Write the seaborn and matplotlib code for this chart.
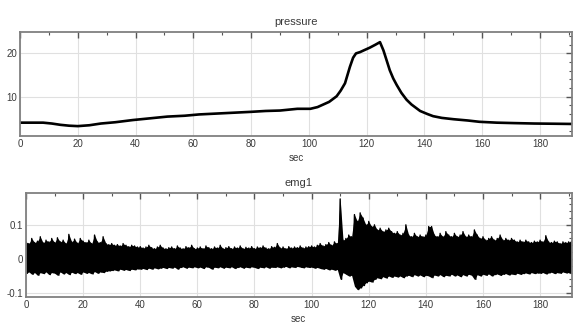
import numpy as np
import pandas as pd
import matplotlib
matplotlib.use("Agg")
import matplotlib.pyplot as plt
from matplotlib.ticker import MultipleLocator
import seaborn as sns

# ---- data ----
pressure_t = [0, 5, 8, 11, 14, 17, 20, 24, 28, 33, 39, 45, 51, 57, 62, 68, 74, 80, 85, 90,
              93, 96, 98, 100.5, 103, 105, 107, 109.6, 111, 112.5, 114.2, 115.3, 116.3, 117.7,
              119, 121, 123, 124.6, 125.8, 127, 128, 129.2, 130.4, 132, 133.8, 135.5, 138.5,
              141, 143, 146, 150, 155, 159, 165, 171, 178, 185, 191]
pressure_val = [4.0, 4.0, 4.0, 3.8, 3.5, 3.3, 3.2, 3.4, 3.8, 4.1, 4.6, 5.0, 5.4, 5.6, 5.9, 6.1,
                6.3, 6.5, 6.7, 6.8, 7.0, 7.2, 7.2, 7.2, 7.6, 8.2, 8.8, 10.1, 11.4, 13.1, 16.9,
                19.0, 20.0, 20.3, 20.7, 21.3, 22.0, 22.6, 20.7, 18.2, 16.1, 14.2, 12.7, 10.9,
                9.3, 8.2, 6.7, 6.0, 5.5, 5.1, 4.8, 4.5, 4.2, 4.0, 3.9, 3.8, 3.75, 3.7]

# emg1: per-second upper / lower excursions (t = 0 .. 191 s)
emg_hi = [0.05, 0.045, 0.06, 0.048, 0.052, 0.065, 0.047, 0.055, 0.05, 0.06,
          0.048, 0.062, 0.05, 0.055, 0.045, 0.072, 0.05, 0.058, 0.046, 0.06,
          0.052, 0.048, 0.055, 0.045, 0.07, 0.05, 0.048, 0.065, 0.045, 0.042,
          0.045, 0.04, 0.042, 0.038, 0.045, 0.04, 0.036, 0.04, 0.038, 0.035,
          0.036, 0.032, 0.035, 0.04, 0.033, 0.03, 0.035, 0.04, 0.032, 0.03,
          0.033, 0.035, 0.03, 0.038, 0.032, 0.03, 0.036, 0.033, 0.04, 0.03,
          0.032, 0.035, 0.03, 0.038, 0.033, 0.03, 0.035, 0.032, 0.04, 0.03,
          0.033, 0.036, 0.03, 0.035, 0.032, 0.038, 0.03, 0.034, 0.032, 0.036,
          0.03, 0.035, 0.033, 0.038, 0.032, 0.03, 0.036, 0.034, 0.045, 0.032,
          0.035, 0.03, 0.036, 0.032, 0.035, 0.033, 0.038, 0.032, 0.035, 0.036,
          0.038, 0.035, 0.04, 0.045, 0.038, 0.042, 0.048, 0.04, 0.05, 0.045,
          0.176, 0.055, 0.06, 0.07, 0.065, 0.13, 0.11, 0.135, 0.12, 0.1,
          0.11, 0.095, 0.1, 0.085, 0.09, 0.08, 0.085, 0.09, 0.08, 0.075,
          0.08, 0.07, 0.075, 0.1, 0.07, 0.065, 0.075, 0.065, 0.07, 0.065,
          0.07, 0.095, 0.095, 0.07, 0.065, 0.075, 0.065, 0.08, 0.07, 0.065,
          0.075, 0.065, 0.07, 0.08, 0.065, 0.07, 0.065, 0.085, 0.07, 0.06,
          0.065, 0.055, 0.06, 0.065, 0.055, 0.06, 0.07, 0.055, 0.06, 0.055,
          0.06, 0.055, 0.05, 0.055, 0.05, 0.055, 0.05, 0.048, 0.052, 0.05,
          0.055, 0.05, 0.068, 0.05, 0.048, 0.052, 0.05, 0.045, 0.05, 0.048,
          0.05, 0.052]
emg_lo = [-0.042, -0.038, -0.045, -0.04, -0.048, -0.04, -0.043, -0.038, -0.046, -0.04,
          -0.042, -0.048, -0.038, -0.044, -0.04, -0.046, -0.039, -0.043, -0.04, -0.045,
          -0.038, -0.042, -0.04, -0.044, -0.037, -0.042, -0.038, -0.04, -0.036, -0.035,
          -0.034, -0.032, -0.035, -0.03, -0.033, -0.031, -0.034, -0.03, -0.032, -0.029,
          -0.03, -0.028, -0.031, -0.027, -0.03, -0.026, -0.029, -0.027, -0.025, -0.028,
          -0.025, -0.027, -0.024, -0.03, -0.025, -0.023, -0.027, -0.024, -0.026, -0.023,
          -0.026, -0.024, -0.028, -0.023, -0.025, -0.03, -0.024, -0.026, -0.023, -0.027,
          -0.024, -0.026, -0.023, -0.028, -0.025, -0.023, -0.027, -0.024, -0.026, -0.023,
          -0.025, -0.028, -0.024, -0.026, -0.023, -0.027, -0.024, -0.025, -0.023, -0.026,
          -0.024, -0.022, -0.026, -0.023, -0.025, -0.022, -0.024, -0.026, -0.023, -0.025,
          -0.024, -0.027, -0.025, -0.028, -0.03, -0.028, -0.032, -0.03, -0.033, -0.031,
          -0.06, -0.04, -0.045, -0.05, -0.048, -0.08, -0.09, -0.085, -0.078, -0.07,
          -0.065, -0.068, -0.06, -0.055, -0.058, -0.052, -0.056, -0.05, -0.054, -0.05,
          -0.053, -0.05, -0.055, -0.05, -0.048, -0.052, -0.046, -0.05, -0.047, -0.052,
          -0.048, -0.05, -0.055, -0.047, -0.05, -0.046, -0.052, -0.048, -0.05, -0.045,
          -0.05, -0.047, -0.052, -0.046, -0.05, -0.045, -0.048, -0.06, -0.046, -0.05,
          -0.045, -0.048, -0.044, -0.05, -0.046, -0.044, -0.048, -0.045, -0.043, -0.047,
          -0.044, -0.046, -0.042, -0.045, -0.043, -0.041, -0.044, -0.04, -0.043, -0.041,
          -0.042, -0.04, -0.044, -0.041, -0.039, -0.043, -0.04, -0.042, -0.038, -0.041,
          -0.04, -0.042]

x_ticks = [0, 20, 40, 60, 80, 100, 120, 140, 160, 180]

# ---- build frames ----
df_p = pd.DataFrame({"sec": pressure_t, "pressure": pressure_val})
emg_t = np.arange(len(emg_hi), dtype=float)
t_inter = np.empty(2 * len(emg_t))
v_inter = np.empty(2 * len(emg_t))
t_inter[0::2] = emg_t
t_inter[1::2] = emg_t + 0.5
v_inter[0::2] = emg_hi
v_inter[1::2] = emg_lo
df_e = pd.DataFrame({"sec": t_inter, "emg1": v_inter})

sns.set_theme(style="white")
plt.rcParams["font.family"] = ["Liberation Sans", "DejaVu Sans"]
txt = "#3a3a3a"

fig = plt.figure(figsize=(5.73, 3.24), dpi=100)
ax1 = fig.add_axes([0.0349, 0.580, 0.963, 0.322])
ax2 = fig.add_axes([0.0454, 0.084, 0.952, 0.320])

sns.lineplot(data=df_p, x="sec", y="pressure", ax=ax1, color="black", linewidth=1.9,
             estimator=None, sort=False)
ax2.fill_between(emg_t, emg_lo, emg_hi, color="black", linewidth=0)
sns.lineplot(data=df_e, x="sec", y="emg1", ax=ax2, color="black", linewidth=1.0,
             estimator=None, sort=False)

ax1.set_xlim(0, 191)
ax1.set_ylim(0.9, 25)
ax2.set_xlim(0, 191)
ax2.set_ylim(-0.111, 0.193)

ax1.set_yticks([10, 20])
ax1.set_yticklabels(["10", "20"])
ax1.yaxis.set_minor_locator(MultipleLocator(2))
ax2.set_yticks([-0.1, 0, 0.1])
ax2.set_yticklabels(["-0.1", "0", "0.1"])
ax2.yaxis.set_minor_locator(MultipleLocator(0.02))

for ax, title in ((ax1, "pressure"), (ax2, "emg1")):
    ax.set_xticks(x_ticks)
    ax.set_xticklabels([str(v) for v in x_ticks])
    ax.xaxis.set_minor_locator(MultipleLocator(10))
    ax.grid(True, which="major", color="#e0e0e0", linewidth=0.8)
    ax.set_axisbelow(True)
    ax.tick_params(which="both", direction="in", top=True, right=True,
                   colors="#555555", labelcolor=txt, labelsize=7, pad=2)
    ax.tick_params(which="major", length=4, width=1)
    ax.tick_params(which="minor", length=2, width=0.8)
    for s in ax.spines.values():
        s.set_color("#808080")
        s.set_linewidth(1.3)
    ax.set_title(title, fontsize=8, color=txt, pad=5)
    ax.set_xlabel("sec", fontsize=7, color=txt, labelpad=3)
    ax.set_ylabel("")

fig.savefig("out.png", dpi=100, facecolor="white")
